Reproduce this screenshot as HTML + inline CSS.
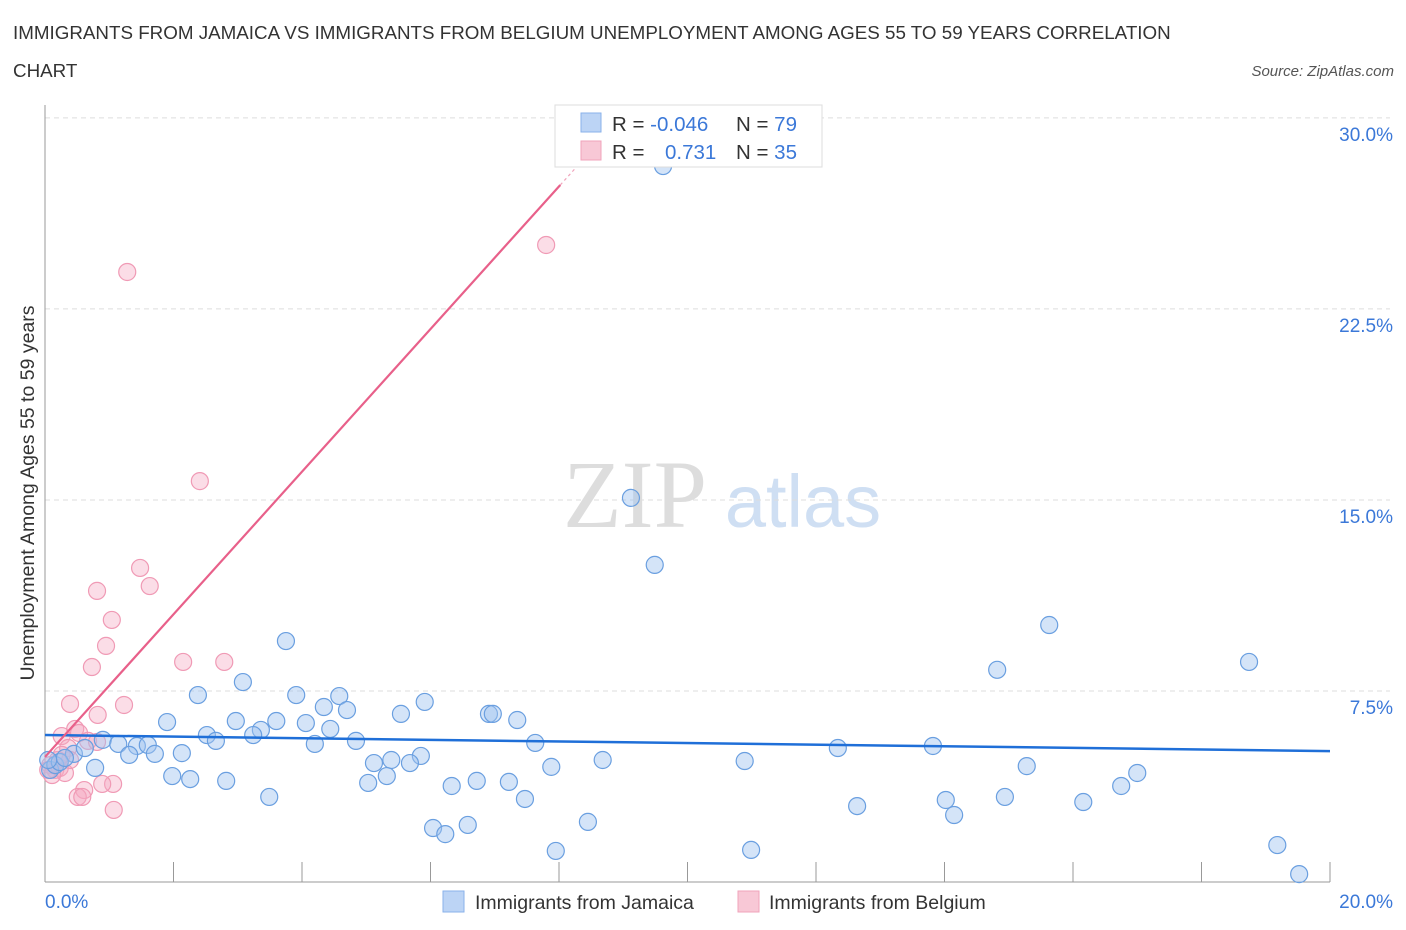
<!DOCTYPE html>
<html><head><meta charset="utf-8"><style>
body{margin:0;background:#fff;font-family:"Liberation Sans",sans-serif}
svg{display:block}
</style></head><body>
<svg id="chart" width="1406" height="930" xmlns="http://www.w3.org/2000/svg">
<text x="13" y="39" font-size="18.8" fill="#333">IMMIGRANTS FROM JAMAICA VS IMMIGRANTS FROM BELGIUM UNEMPLOYMENT AMONG AGES 55 TO 59 YEARS CORRELATION</text>
<text x="13" y="77" font-size="18.8" fill="#333">CHART</text>
<text x="1394" y="76" font-size="15" fill="#555" font-style="italic" text-anchor="end">Source: ZipAtlas.com</text>
<text transform="translate(34,493) rotate(-90)" font-size="19.5" fill="#333" text-anchor="middle">Unemployment Among Ages 55 to 59 years</text>
<g>
<text x="635" y="527" font-size="96" fill="#ddd" font-family="Liberation Serif,serif" text-anchor="middle">ZIP</text>
<text x="803" y="527" font-size="74" fill="#cfdff3" text-anchor="middle">atlas</text>
</g>
<g id="grid"></g><g id="axes"></g><g id="pts"></g><g id="trend"></g>
<g>
<rect x="555" y="105" width="267" height="62" fill="#fff" stroke="#ddd"/>
<rect x="581" y="113" width="20" height="19" fill="#bcd4f5" stroke="#8ab2ea"/>
<text x="612" y="131" font-size="20.5" fill="#333">R = <tspan fill="#3b78d8">-0.046</tspan></text>
<text x="736" y="131" font-size="20.5" fill="#333">N = <tspan fill="#3b78d8">79</tspan></text>
<rect x="581" y="141" width="20" height="19" fill="#f8c8d6" stroke="#f0a3bb"/>
<text x="612" y="159" font-size="20.5" fill="#333">R = </text>
<text x="665" y="159" font-size="20.5" fill="#3b78d8">0.731</text>
<text x="736" y="159" font-size="20.5" fill="#333">N = <tspan fill="#3b78d8">35</tspan></text>
</g>
<g>
<rect x="443" y="891" width="21" height="21" fill="#bcd4f5" stroke="#8ab2ea"/>
<text x="475" y="909" font-size="19.5" fill="#333">Immigrants from Jamaica</text>
<rect x="738" y="891" width="21" height="21" fill="#f8c8d6" stroke="#f0a3bb"/>
<text x="769" y="909" font-size="19.5" fill="#333">Immigrants from Belgium</text>
</g>
</svg>
<script>
const yTicks=[7.5,15,22.5,30];
const yTickLabels=["7.5%","15.0%","22.5%","30.0%"];
const xTickLabels=["0.0%","20.0%"];
const jamX=[9.62,9.12,9.49,15.63,14.82,18.74,3.75,3.08,2.38,3.91,4.58,4.34,4.70,5.91,5.54,6.91,6.97,7.35,1.90,2.97,3.60,4.06,4.44,2.52,3.36,3.24,2.66,0.90,1.14,1.43,1.60,2.13,1.31,1.71,4.20,4.84,7.63,12.34,13.82,0.45,0.78,5.12,5.39,5.85,5.68,7.88,8.68,10.89,15.28,17.00,16.75,1.98,2.26,2.82,5.32,5.03,6.33,6.72,7.22,3.49,7.47,14.02,14.94,16.16,12.64,14.15,8.45,6.58,6.04,6.23,7.95,10.99,19.18,19.52,0.08,0.16,0.23,0.31,0.05,0.62];
const jamY=[28.11,15.08,12.45,10.09,8.33,8.64,9.46,7.85,7.34,7.34,7.30,6.87,6.75,7.07,6.60,6.60,6.60,6.36,6.28,6.32,6.32,6.24,6.01,5.77,5.97,5.77,5.54,5.58,5.42,5.34,5.38,5.06,4.99,5.03,5.42,5.54,5.46,5.26,5.34,5.03,4.48,4.67,4.79,4.95,4.67,4.52,4.79,4.75,4.55,4.28,3.77,4.16,4.04,3.97,4.16,3.89,3.77,3.97,3.93,3.34,3.26,3.22,3.34,3.14,2.98,2.63,2.36,2.24,2.12,1.88,1.22,1.26,1.45,0.31,4.40,4.59,4.71,4.87,4.79,5.26];
const belX=[1.28,7.80,2.41,1.48,1.63,0.81,1.04,0.95,0.73,2.15,2.79,0.39,1.23,0.82,0.47,0.53,0.67,0.81,0.26,0.36,1.06,0.89,0.61,0.51,0.58,1.07,0.08,0.16,0.23,0.31,0.05,0.20,0.11,0.39,0.26];
const belY=[23.95,25.01,15.74,12.33,11.62,11.43,10.29,9.27,8.44,8.64,8.64,6.99,6.95,6.56,6.01,5.85,5.54,5.50,5.73,5.26,3.85,3.85,3.61,3.34,3.34,2.83,4.59,4.40,4.48,4.28,4.40,4.79,4.20,4.79,4.99];
const jamTrend=[5.77,5.14];
const belTrend=[4.91,2.80];
const NS="http://www.w3.org/2000/svg";
const X=v=>45+v*64.25, Y=v=>882-v*25.47;
function mk(t,a,p){const e=document.createElementNS(NS,t);for(const k in a)e.setAttribute(k,a[k]);p.appendChild(e);return e;}
const grid=document.getElementById('grid'),axes=document.getElementById('axes'),pts=document.getElementById('pts'),tr=document.getElementById('trend');
yTicks.forEach((t,i)=>{
 const l=mk('line',{x1:45,x2:1390,y1:Y(t),y2:Y(t),stroke:'#ddd','stroke-dasharray':'5,4'},grid);
 
 
 const tx=mk('text',{x:1393,y:Y(t)+23,'font-size':19,fill:'#3b78d8','text-anchor':'end'},grid);
 tx.textContent=yTickLabels[i];
 
 
});
mk('line',{x1:45,x2:45,y1:105,y2:882,stroke:'#999'},axes);
mk('line',{x1:45,x2:1330,y1:882,y2:882,stroke:'#999'},axes);
for(let i=0;i<=10;i++){const t=mk('line',{x1:X(i*2),x2:X(i*2),y1:862,y2:882,stroke:'#999'},axes);
 
 }
const xl0=mk('text',{x:45,y:908,'font-size':19,fill:'#3b78d8'},axes);xl0.textContent=xTickLabels[0];


const xl1=mk('text',{x:1393,y:908,'font-size':19,fill:'#3b78d8','text-anchor':'end'},axes);xl1.textContent=xTickLabels[1];


belX.forEach((x,i)=>{const c=mk('circle',{cx:X(x),cy:Y(belY[i]),r:8.5,fill:'rgba(245,170,195,0.4)',stroke:'#f09ab5','stroke-width':1.2},pts);
 
 });
jamX.forEach((x,i)=>{const c=mk('circle',{cx:X(x),cy:Y(jamY[i]),r:8.5,fill:'rgba(160,196,240,0.45)',stroke:'#6a9fe0','stroke-width':1.2},pts);
 
 });
const jl=mk('line',{x1:X(0),y1:Y(jamTrend[0]),x2:X(20),y2:Y(jamTrend[1]),stroke:'#1f6fd8','stroke-width':2.5},tr);


const bl=mk('line',{x1:X(0),y1:Y(belTrend[0]),x2:X(8.02),y2:Y(belTrend[0]+belTrend[1]*8.02),stroke:'#e8608a','stroke-width':2.2},tr);


const bd=mk('line',{x1:X(8.02),y1:Y(belTrend[0]+belTrend[1]*8.02),x2:X(8.45),y2:Y(belTrend[0]+belTrend[1]*8.45),stroke:'#f0a3bb','stroke-width':1.2,'stroke-dasharray':'3,3'},tr);


</script>
</body></html>
